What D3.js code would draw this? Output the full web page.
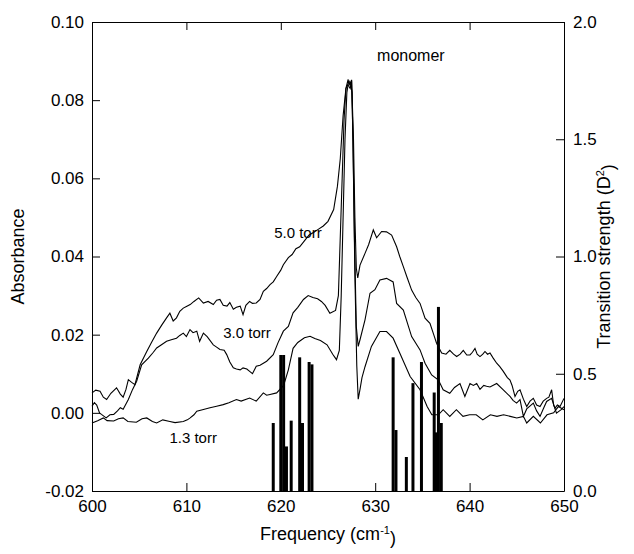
<!DOCTYPE html>
<html><head><meta charset="utf-8">
<script src="https://cdn.jsdelivr.net/npm/d3@7"></script>
<style>
html,body{margin:0;padding:0;background:#fff;}
svg text{font-family:"Liberation Sans",Arial,sans-serif;fill:#000;}
</style></head>
<body><svg id="c" width="634" height="554"></svg>
<script>
// ---- data ----
const xTicks = [600, 610, 620, 630, 640, 650];
const yTicks = [-0.02, 0.00, 0.02, 0.04, 0.06, 0.08, 0.10];
const yRTicks = [0.0, 0.5, 1.0, 1.5, 2.0];

const torr50 = [[600.0,0.0051],[600.4,0.0058],[600.85,0.0055],[601.2,0.0040],[601.55,0.0034],[602.0,0.0050],[602.6,0.0064],[603.0,0.0048],[603.3,0.0040],[603.6,0.0060],[603.85,0.0085],[604.2,0.0078],[604.55,0.0072],[605.1,0.0123],[605.8,0.0157],[606.3,0.0180],[606.85,0.0204],[607.4,0.0225],[607.9,0.0243],[608.25,0.0255],[608.6,0.0235],[608.95,0.0243],[609.3,0.0260],[609.67,0.0268],[610.0,0.0272],[610.4,0.0277],[610.8,0.0285],[611.3,0.0294],[611.8,0.0281],[612.3,0.0285],[612.85,0.0277],[613.2,0.0288],[613.55,0.0290],[613.9,0.0275],[614.3,0.0273],[614.6,0.0282],[614.97,0.0265],[615.3,0.0270],[615.7,0.0273],[616.0,0.0251],[616.3,0.0275],[616.7,0.0285],[617.0,0.0280],[617.4,0.0281],[617.8,0.0290],[618.15,0.0311],[618.5,0.0318],[618.86,0.0328],[619.2,0.0335],[619.56,0.0349],[620.0,0.0365],[620.27,0.0379],[620.8,0.0397],[621.2,0.0405],[621.6,0.0420],[622.0,0.0425],[622.5,0.0440],[623.0,0.0455],[623.5,0.0462],[624.0,0.0470],[624.5,0.0478],[625.0,0.0490],[625.6,0.0520],[626.0,0.0580],[626.3,0.0650],[626.6,0.0760],[626.9,0.0830],[627.1,0.0850],[627.3,0.0840],[627.5,0.0852],[627.7,0.0700],[627.85,0.0500],[628.0,0.0370],[628.15,0.0345],[628.39,0.0378],[628.92,0.0408],[629.3,0.0430],[629.8,0.0468],[630.15,0.0448],[630.68,0.0464],[631.2,0.0463],[631.74,0.0455],[632.27,0.0425],[632.6,0.0400],[632.98,0.0374],[633.4,0.0345],[633.86,0.0314],[634.3,0.0295],[634.75,0.0280],[635.28,0.0242],[635.8,0.0229],[636.2,0.0200],[636.5,0.0178],[637.04,0.0153],[637.5,0.0150],[637.9,0.0160],[638.3,0.0150],[638.63,0.0144],[639.0,0.0150],[639.33,0.0160],[639.7,0.0148],[640.04,0.0148],[640.3,0.0155],[640.57,0.0165],[640.8,0.0150],[641.1,0.0144],[641.4,0.0150],[641.63,0.0157],[641.9,0.0150],[642.16,0.0153],[642.5,0.0140],[642.87,0.0127],[643.2,0.0118],[643.57,0.0106],[644.0,0.0090],[644.28,0.0084],[644.5,0.0070],[644.81,0.0042],[645.1,0.0055],[645.34,0.0059],[645.7,0.0035],[646.05,0.0016],[646.4,0.0030],[646.75,0.0037],[647.1,0.0020],[647.46,0.0016],[647.8,0.0030],[648.16,0.0037],[648.4,0.0040],[648.69,0.0059],[648.9,0.0020],[649.05,0.0012],[649.3,0.0020],[649.58,0.0016],[650.0,0.0037]];

const torr30 = [[600.0,0.0017],[600.25,0.0026],[600.5,0.0020],[600.8,0.0000],[601.0,-0.0004],[601.5,-0.0013],[601.9,-0.0005],[602.3,-0.0004],[602.7,0.0005],[603.0,0.0013],[603.3,0.0009],[603.85,0.0034],[604.3,0.0060],[604.73,0.0081],[605.26,0.0123],[605.97,0.0140],[606.5,0.0155],[606.85,0.0166],[607.4,0.0175],[607.9,0.0183],[608.4,0.0187],[608.95,0.0191],[609.3,0.0198],[609.67,0.0204],[610.0,0.0195],[610.38,0.0213],[610.7,0.0205],[611.1,0.0209],[611.4,0.0183],[611.8,0.0204],[612.2,0.0195],[612.85,0.0174],[613.2,0.0168],[613.55,0.0162],[614.0,0.0160],[614.27,0.0149],[614.6,0.0130],[614.97,0.0115],[615.3,0.0112],[615.7,0.0110],[616.0,0.0115],[616.4,0.0112],[616.7,0.0106],[617.0,0.0100],[617.4,0.0119],[617.8,0.0122],[618.5,0.0132],[619.2,0.0149],[619.7,0.0179],[620.27,0.0209],[620.8,0.0221],[621.3,0.0256],[621.8,0.0270],[622.4,0.0290],[622.9,0.0300],[623.4,0.0295],[623.9,0.0292],[624.3,0.0285],[624.7,0.0275],[625.2,0.0255],[625.8,0.0262],[626.1,0.0300],[626.3,0.0450],[626.5,0.0600],[626.7,0.0750],[626.9,0.0830],[627.1,0.0840],[627.35,0.0830],[627.5,0.0850],[627.65,0.0700],[627.8,0.0450],[628.0,0.0220],[628.2,0.0170],[628.39,0.0187],[628.92,0.0238],[629.45,0.0306],[629.97,0.0315],[630.5,0.0340],[631.2,0.0344],[631.9,0.0335],[632.27,0.0280],[632.98,0.0263],[633.86,0.0195],[634.75,0.0161],[635.28,0.0127],[635.98,0.0097],[636.7,0.0084],[637.2,0.0059],[637.9,0.0050],[638.4,0.0065],[638.98,0.0075],[639.5,0.0042],[640.04,0.0075],[640.4,0.0070],[640.75,0.0075],[641.1,0.0060],[641.5,0.0070],[641.8,0.0068],[642.16,0.0066],[642.87,0.0075],[643.57,0.0059],[644.28,0.0042],[644.6,0.0032],[644.98,0.0025],[645.34,0.0034],[645.7,-0.0009],[646.05,0.0010],[646.75,0.0025],[647.1,0.0005],[647.46,-0.0009],[647.8,0.0010],[648.16,0.0029],[648.69,0.0037],[649.2,-0.0001],[649.7,0.0008],[650.0,0.0016]];

const torr13 = [[600.0,-0.0026],[600.6,-0.0020],[601.2,-0.0013],[601.6,-0.0020],[602.3,-0.0021],[602.8,-0.0015],[603.3,-0.0013],[603.8,-0.0022],[604.7,-0.0024],[605.3,-0.0015],[605.8,-0.0013],[606.4,-0.0022],[606.85,-0.0026],[607.5,-0.0018],[608.25,-0.0022],[608.8,-0.0025],[609.67,-0.0022],[610.1,-0.0018],[610.4,-0.0013],[610.8,-0.0005],[611.1,0.0004],[611.7,0.0008],[612.5,0.0013],[613.2,0.0017],[613.9,0.0021],[614.5,0.0026],[615.3,0.0034],[615.8,0.0030],[616.7,0.0038],[617.4,0.0030],[618.15,0.0051],[618.5,0.0045],[618.86,0.0047],[619.56,0.0051],[620.3,0.0070],[620.8,0.0110],[621.3,0.0165],[621.8,0.0180],[622.5,0.0192],[623.1,0.0196],[623.6,0.0190],[624.2,0.0185],[624.9,0.0174],[625.5,0.0150],[625.9,0.0136],[626.2,0.0160],[626.4,0.0300],[626.6,0.0500],[626.8,0.0700],[627.0,0.0820],[627.2,0.0850],[627.4,0.0840],[627.55,0.0820],[627.7,0.0600],[627.85,0.0350],[628.05,0.0120],[628.2,0.0035],[628.39,0.0060],[628.6,0.0090],[628.92,0.0118],[629.6,0.0170],[630.5,0.0208],[631.2,0.0208],[631.9,0.0191],[632.6,0.0153],[633.7,0.0093],[634.75,0.0059],[635.5,0.0016],[636.0,-0.0005],[636.7,-0.0005],[637.2,0.0008],[637.9,-0.0009],[638.6,0.0008],[639.3,-0.0009],[640.0,-0.0005],[640.7,-0.0005],[641.4,-0.0018],[642.2,-0.0005],[642.9,-0.0009],[643.6,-0.0005],[644.3,-0.0009],[645.0,-0.0013],[645.7,-0.0009],[646.05,-0.0026],[646.75,-0.0009],[647.5,-0.0026],[648.2,-0.0005],[648.9,0.0000],[649.4,0.0016],[650.0,0.0008]];

// transition strengths (D^2) vs frequency
const stickFreq = [619.2, 620.0, 620.3, 620.6, 621.1, 622.0, 622.3, 623.0, 623.3, 631.9, 632.2, 633.3, 634.0, 634.9, 636.25, 636.45, 636.7, 637.0];
const stickStrength = [0.29, 0.58, 0.58, 0.19, 0.30, 0.57, 0.29, 0.55, 0.54, 0.57, 0.26, 0.145, 0.46, 0.55, 0.42, 0.25, 0.785, 0.29];

const curveLabels = [
  {text: "5.0 torr", f: 619.3, v: 0.0460},
  {text: "3.0 torr", f: 613.9, v: 0.0205},
  {text: "1.3 torr", f: 608.2, v: -0.0065}
];

// ---- chart ----
const svg = d3.select("#c");
const L = 92, R = 564, T = 22, B = 491;
const x = d3.scaleLinear().domain([600, 650]).range([L, R]);
const y = d3.scaleLinear().domain([-0.02, 0.10]).range([B, T]);
const yR = d3.scaleLinear().domain([0, 2]).range([B, T]);

// sticks
svg.append("g").selectAll("line").data(stickFreq).join("line")
  .attr("x1", d => x(d)).attr("x2", d => x(d))
  .attr("y1", yR(0)).attr("y2", (d, i) => yR(stickStrength[i]))
  .attr("stroke", "#000").attr("stroke-width", 3);

// curves
const line = d3.line().x(d => x(d[0])).y(d => y(d[1]));
[torr50, torr30, torr13].forEach(s => {
  svg.append("path").datum(s).attr("d", line)
    .attr("fill", "none").attr("stroke", "#000").attr("stroke-width", 1.1);
});

// axes
const fs = "17px";
const gL = svg.append("g").attr("transform", `translate(${L},0)`)
  .call(d3.axisLeft(y).tickValues(yTicks).tickFormat(d => d.toFixed(2)).tickSizeInner(-8).tickSizeOuter(0).tickPadding(8));
const gB = svg.append("g").attr("transform", `translate(0,${B})`)
  .call(d3.axisBottom(x).tickValues(xTicks).tickFormat(d3.format("d")).tickSizeInner(-8).tickSizeOuter(0).tickPadding(9));
const gT = svg.append("g").attr("transform", `translate(0,${T})`)
  .call(d3.axisTop(x).tickValues(xTicks).tickFormat("").tickSizeInner(-8).tickSizeOuter(0));
const gR = svg.append("g").attr("transform", `translate(${R},0)`)
  .call(d3.axisRight(yR).tickValues(yRTicks).tickFormat(d => d.toFixed(1)).tickSizeInner(-8).tickSizeOuter(0).tickPadding(9));
[gL, gB, gT, gR].forEach(g => {
  g.selectAll("text").style("font-size", fs).attr("font-family", null);
  g.selectAll("path,line").attr("stroke", "#000");
});

// axis titles
svg.append("text").attr("transform", `translate(24,${(T + B) / 2}) rotate(-90)`)
  .attr("text-anchor", "middle").style("font-size", "18px").text("Absorbance");

const tR = svg.append("text").attr("transform", `translate(${R + 46},${(T + B) / 2}) rotate(-90)`)
  .attr("text-anchor", "middle").style("font-size", "18px");
tR.append("tspan").text("Transition strength (D");
tR.append("tspan").attr("dy", "-0.55em").style("font-size", "11px").text("2");
tR.append("tspan").attr("dy", "0.55em").text(")");

const tB = svg.append("text").attr("x", (L + R) / 2).attr("y", 540)
  .attr("text-anchor", "middle").style("font-size", "18px");
tB.append("tspan").text("Frequency (cm");
tB.append("tspan").attr("dy", "-0.55em").style("font-size", "11px").text("-1");
tB.append("tspan").attr("dy", "0.55em").text(")");

// curve labels
svg.append("g").selectAll("text").data(curveLabels).join("text")
  .attr("x", d => x(d.f)).attr("y", d => y(d.v)).attr("dy", "0.35em")
  .style("font-size", "15px").text(d => d.text);

svg.append("text").attr("x", x(630.2)).attr("y", y(0.0915)).attr("dy", "0.35em")
  .style("font-size", "16px").text("monomer");
</script></body></html>
